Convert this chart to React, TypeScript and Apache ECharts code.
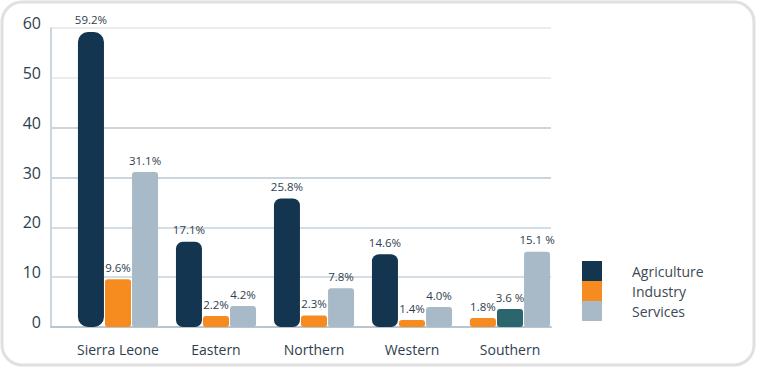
import React, { useEffect, useRef } from "react";
import * as echarts from "echarts";

const categories = ["Sierra Leone", "Eastern", "Northern", "Western", "Southern"];
const agriculture = [59.2, 17.1, 25.8, 14.6, 1.8];
const industry = [9.6, 2.2, 2.3, 1.4, 3.6];
const services = [31.1, 4.2, 7.8, 4.0, 15.1];
const agricultureLabels = ["59.2%", "17.1%", "25.8%", "14.6%", "1.8%"];
const industryLabels = ["9.6%", "2.2%", "2.3%", "1.4%", "3.6 %"];
const servicesLabels = ["31.1%", "4.2%", "7.8%", "4.0%", "15.1 %"];
const yTicks = [0, 10, 20, 30, 40, 50, 60];

const NAVY = "#13354f";
const ORANGE = "#f68b1f";
const GREY = "#a8b9c7";
const TEAL = "#2b666e";
const TEXT = "#2f3e4e";
const FONT = "'Open Sans', 'Noto Sans', sans-serif";

export default function App() {
  const ref = useRef<HTMLDivElement>(null);
  useEffect(() => {
    if (!ref.current) return;
    const chart = echarts.init(ref.current, null, { renderer: "svg" });
    const label = (texts: string[]) => ({
      show: true,
      position: "top",
      distance: 6,
      fontSize: 11.5,
      fontFamily: FONT,
      color: TEXT,
      formatter: (p: any) => texts[p.dataIndex],
    });
    const agriData = agriculture.map((v, i) => {
      if (i === 0) return { value: v, itemStyle: { borderRadius: 10 } };
      if (i === 4) return { value: v, itemStyle: { color: ORANGE, borderRadius: 3 } };
      return v;
    });
    const indData = industry.map((v, i) =>
      i === 4 ? { value: v, itemStyle: { color: TEAL } } : v
    );
    chart.setOption({
      animation: false,
      textStyle: { fontFamily: FONT },
      graphic: [
        {
          type: "rect",
          shape: { x: 2, y: 2, width: 752, height: 363, r: 20 },
          style: { fill: "none", stroke: "#e0e0e0", lineWidth: 3 },
          silent: true,
        },
      ],
      legend: {
        data: ["Agriculture", "Industry", "Services"],
        orient: "vertical",
        left: 582,
        top: 261,
        padding: 0,
        icon: "rect",
        itemWidth: 20,
        itemHeight: 20,
        itemGap: 0,
        selectedMode: false,
        textStyle: { fontSize: 14, color: "#3d4955", fontFamily: FONT, padding: [0, 0, 0, 25] },
      },
      grid: [
        { left: 51, right: 207, top: 28, bottom: 43 },
        { left: 69, right: 199, top: 28, bottom: 43 },
      ],
      xAxis: [
        {
          gridIndex: 0,
          type: "category",
          data: categories,
          axisLabel: { show: false },
          axisTick: { show: false },
          axisLine: { show: true, lineStyle: { color: "#b9c6d1", width: 2 } },
        },
        {
          gridIndex: 1,
          type: "category",
          data: categories,
          axisLine: { show: false },
          axisTick: { show: false },
          axisLabel: { interval: 0, margin: 15, fontSize: 14, color: TEXT, fontFamily: FONT },
        },
      ],
      yAxis: [
        {
          gridIndex: 0,
          type: "value",
          min: yTicks[0],
          max: yTicks[yTicks.length - 1],
          interval: 10,
          axisLine: { show: true, lineStyle: { color: "#c9d5df", width: 2 } },
          axisTick: { show: false },
          axisLabel: {
            margin: 10,
            fontSize: 16,
            color: TEXT,
            fontFamily: FONT,
            verticalAlign: "bottom",
            lineHeight: 10,
          },
          splitLine: {
            show: true,
            lineStyle: {
              width: 1.5,
              color: ["#b9c6d1", "#c8d3dd", "#c8d3dd", "#bac7d2", "#bac7d2", "#e6e6e6", "#e6e6e6"],
            },
          },
        },
        {
          gridIndex: 1,
          type: "value",
          min: 0,
          max: 60,
          show: false,
          splitLine: { show: false },
        },
      ],
      series: [
        {
          name: "Agriculture",
          type: "bar",
          xAxisIndex: 1,
          yAxisIndex: 1,
          data: agriData,
          barWidth: 26,
          barGap: "4%",
          itemStyle: { color: NAVY, borderRadius: 7 },
          label: label(agricultureLabels),
        },
        {
          name: "Industry",
          type: "bar",
          xAxisIndex: 1,
          yAxisIndex: 1,
          data: indData,
          barWidth: 26,
          barGap: "4%",
          itemStyle: { color: ORANGE, borderRadius: 3 },
          label: label(industryLabels),
        },
        {
          name: "Services",
          type: "bar",
          xAxisIndex: 1,
          yAxisIndex: 1,
          data: services,
          barWidth: 26,
          barGap: "4%",
          itemStyle: { color: GREY, borderRadius: 3 },
          label: label(servicesLabels),
        },
      ],
    });
    return () => chart.dispose();
  }, []);
  return (
    <div
      ref={ref}
      style={{ position: "fixed", left: 0, top: 0, width: 758, height: 370, background: "#fff" }}
    />
  );
}
